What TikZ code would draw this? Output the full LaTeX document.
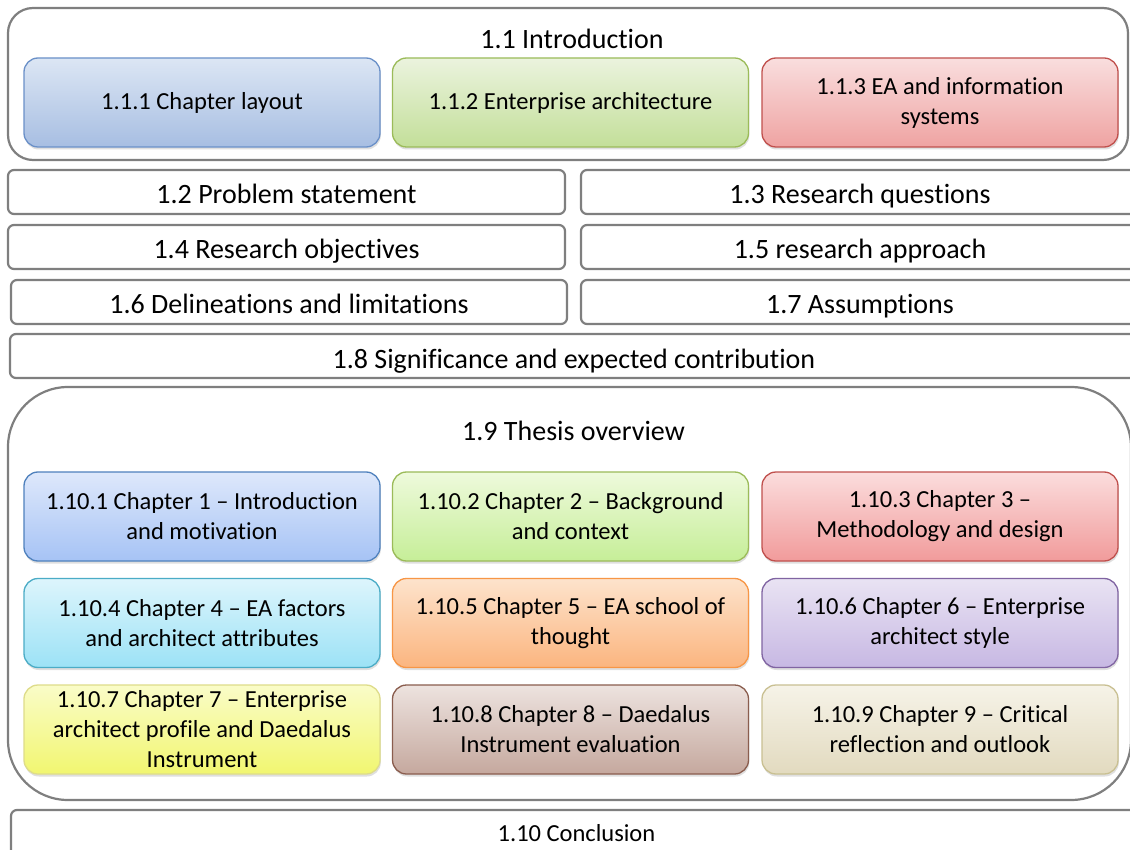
\documentclass[tikz,border=0pt]{standalone}
\usepackage{fontspec}
\setmainfont{Carlito}[Ligatures=NoCommon]
\usetikzlibrary{shadows}

% frame and box colours
\definecolor{framegray}{HTML}{7F7F7F}
\definecolor{iBlueT}{HTML}{DCE6F4}\definecolor{iBlueB}{HTML}{A7BEE2}\definecolor{iBlueD}{HTML}{6A90C8}
\definecolor{iGreenT}{HTML}{EBF3DE}\definecolor{iGreenB}{HTML}{C3DF99}\definecolor{iGreenD}{HTML}{9BBB59}
\definecolor{iRedT}{HTML}{F9DEDE}\definecolor{iRedB}{HTML}{EFA3A2}\definecolor{iRedD}{HTML}{C0504D}
\definecolor{cBlueT}{HTML}{DEE8FB}\definecolor{cBlueB}{HTML}{A6C3F5}\definecolor{cBlueD}{HTML}{4F81BD}
\definecolor{cGreenT}{HTML}{EEFADC}\definecolor{cGreenB}{HTML}{C6EE98}\definecolor{cGreenD}{HTML}{9BBB59}
\definecolor{cRedT}{HTML}{FBDDDD}\definecolor{cRedB}{HTML}{F19B9B}\definecolor{cRedD}{HTML}{C0504D}
\definecolor{cCyanT}{HTML}{DDF5FC}\definecolor{cCyanB}{HTML}{9CE2F6}\definecolor{cCyanD}{HTML}{4BACC6}
\definecolor{cOrangeT}{HTML}{FDE3CC}\definecolor{cOrangeB}{HTML}{FBB57F}\definecolor{cOrangeD}{HTML}{F79646}
\definecolor{cPurpleT}{HTML}{E9E3F3}\definecolor{cPurpleB}{HTML}{C7B8E3}\definecolor{cPurpleD}{HTML}{8064A2}
\definecolor{cYellowT}{HTML}{FAFCC8}\definecolor{cYellowB}{HTML}{F1F670}\definecolor{cYellowD}{HTML}{DEDC8A}
\definecolor{cBrownT}{HTML}{EDE3DF}\definecolor{cBrownB}{HTML}{C5A89E}\definecolor{cBrownD}{HTML}{8A5D4E}
\definecolor{cTanT}{HTML}{F6F3E8}\definecolor{cTanB}{HTML}{E2DABF}\definecolor{cTanD}{HTML}{C9C092}

\newcommand{\secfont}{\fontsize{28}{30}\selectfont}
\newcommand{\boxfont}{\fontsize{24.5}{30}\selectfont}

\tikzset{
  frame/.style={draw=framegray, line width=2.2pt, fill=white, inner sep=0pt},
  container/.style={frame, rectangle},
  secbox/.style={frame, rounded corners=6pt, minimum height=44pt, font=\secfont,
    text height=24pt, text depth=0pt},
  title/.style={font=\secfont, inner sep=0pt},
  colbox/.style n args={3}{rectangle, rounded corners=14pt, minimum width=356pt,
    minimum height=89pt, align=center, font=\boxfont, inner sep=0pt,
    top color=#1, bottom color=#2, draw=#3, line width=1.3pt,
    drop shadow={opacity=0.25, shadow xshift=0.8pt, shadow yshift=-2.5pt}},
}

\begin{document}
\begin{tikzpicture}[x=1pt,y=-1pt]
\useasboundingbox (0,0) rectangle (1130,850);
\clip (0,0) rectangle (1130,850);

% 1.1 Introduction container and its sub-sections
\node[container, rounded corners=25pt, minimum width=1120pt, minimum height=152pt] (intro) at (568,84) {};
\node[title] (introT) at (572,39) {1.1 Introduction};
\node[colbox={iBlueT}{iBlueB}{iBlueD}] (s111) at (202,102.5) {1.1.1 Chapter layout};
\node[colbox={iGreenT}{iGreenB}{iGreenD}] (s112) at (570.5,102.5) {1.1.2 Enterprise architecture};
\node[colbox={iRedT}{iRedB}{iRedD}] (s113) at (940,102.5) {1.1.3 EA and information\\systems};

% sections 1.2 to 1.8
\node[secbox, minimum width=557pt] (s12) at (286.5,192) {1.2 Problem statement};
\node[secbox, minimum width=558pt] (s13) at (860,192) {1.3 Research questions};
\node[secbox, minimum width=557pt] (s14) at (286.5,247) {1.4 Research objectives};
\node[secbox, minimum width=558pt] (s15) at (860,247) {1.5 research approach};
\node[secbox, minimum width=556pt] (s16) at (289,302) {1.6 Delineations and limitations};
\node[secbox, minimum width=558pt] (s17) at (860,302) {1.7 Assumptions};
\node[secbox, minimum width=1128pt] (s18) at (574,356) {1.8 Significance and expected contribution};

% 1.9 Thesis overview container and chapter boxes
\node[container, rounded corners=60pt, minimum width=1123pt, minimum height=413pt] (overview) at (569.5,593.5) {};
\node[title] (overviewT) at (573.5,431) {1.9 Thesis overview};

\node[colbox={cBlueT}{cBlueB}{cBlueD}] (c1) at (202,516.5) {1.10.1 Chapter 1 -- Introduction\\and motivation};
\node[colbox={cGreenT}{cGreenB}{cGreenD}] (c2) at (570.5,516.5) {1.10.2 Chapter 2 -- Background\\and context};
\node[colbox={cRedT}{cRedB}{cRedD}] (c3) at (940,516.5) {1.10.3 Chapter 3 --\\Methodology and design};
\node[colbox={cCyanT}{cCyanB}{cCyanD}] (c4) at (202,623) {1.10.4 Chapter 4 -- EA factors\\and architect attributes};
\node[colbox={cOrangeT}{cOrangeB}{cOrangeD}] (c5) at (570.5,623) {1.10.5 Chapter 5 -- EA school of\\thought};
\node[colbox={cPurpleT}{cPurpleB}{cPurpleD}] (c6) at (940,623) {1.10.6 Chapter 6 -- Enterprise\\architect style};
\node[colbox={cYellowT}{cYellowB}{cYellowD}] (c7) at (202,729.5) {1.10.7 Chapter 7 -- Enterprise\\architect profile and Daedalus\\Instrument};
\node[colbox={cBrownT}{cBrownB}{cBrownD}] (c8) at (570.5,729.5) {1.10.8 Chapter 8 -- Daedalus\\Instrument evaluation};
\node[colbox={cTanT}{cTanB}{cTanD}] (c9) at (940,729.5) {1.10.9 Chapter 9 -- Critical\\reflection and outlook};

% 1.10 Conclusion
\node[secbox, minimum width=1131pt, minimum height=60pt] (s110) at (576.5,840) {};
\node[title, font=\boxfont] (s110T) at (576.5,833) {1.10 Conclusion};
\end{tikzpicture}
\end{document}
